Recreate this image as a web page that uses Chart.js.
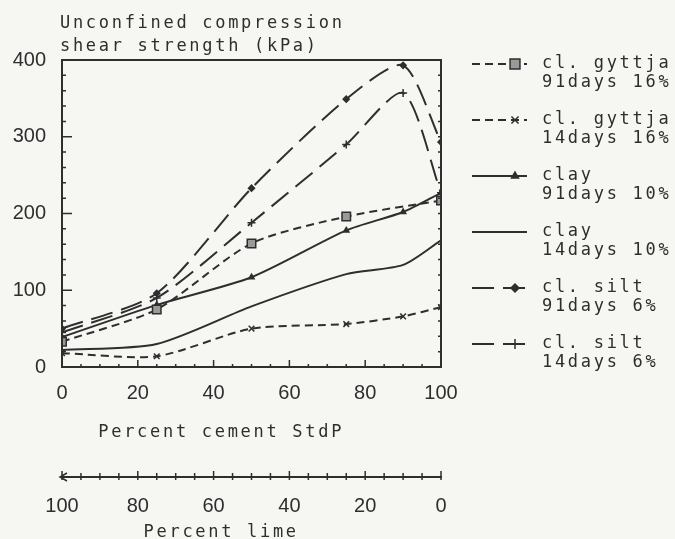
<!DOCTYPE html>
<html>
<head>
<meta charset="utf-8">
<script src="https://cdn.jsdelivr.net/npm/chart.js@4.4.1/dist/chart.umd.min.js"></script>
<style>
  html, body { margin: 0; background: #f6f6f3; }
  #wrap { width: 675px; height: 539px; }
</style>
</head>
<body>
<div id="wrap"><canvas id="strength-chart"></canvas></div>
<script>
// Percent cement StdP (the rest is lime)
var cementPct = [0, 25, 50, 75, 90, 100];

// Unconfined compression shear strength (kPa)
var gyttja91 = [33, 75, 161, 196, null, 217];
var gyttja14 = [18, 14, 50, 56, 66, 78];
var clay91 = [39, 81, 117, 178, 202, 227];
var clay14 = [22, 30, 79, 121, 133, 165];
var silt91 = [50, 96, 233, 349, 393, 293];
var silt14 = [45, 90, 188, 290, 357, 227];

var legendNames = [
  ["cl. gyttja", "91days 16%"],
  ["cl. gyttja", "14days 16%"],
  ["clay", "91days 10%"],
  ["clay", "14days 10%"],
  ["cl. silt", "91days 6%"],
  ["cl. silt", "14days 6%"]
];

var yTitle = ["Unconfined compression", "shear strength (kPa)"];
var xTitle = "Percent cement StdP";
var x2Title = "Percent lime";

var ink = '#2e2e2e';
var monoFont = '17px "DejaVu Sans Mono"';

function pts(vals) {
  return cementPct.map(function (c, i) { return { x: c, y: vals[i] }; });
}

function series(name, vals, dash, style, radius) {
  return {
    label: name,
    data: pts(vals),
    borderColor: ink,
    backgroundColor: ink,
    borderWidth: 2,
    borderDash: dash,
    pointStyle: style,
    pointRadius: radius,
    pointBorderWidth: 1.5,
    pointBackgroundColor: style === 'rect' ? '#9a9a9a' : ink,
    tension: 0.25,
    spanGaps: true,
    fill: false
  };
}

// frame, inner ticks, titles and the two-line legend
var decorations = {
  id: 'decorations',
  afterDraw: function (chart) {
    var ctx = chart.ctx;
    var a = chart.chartArea;
    var sx = chart.scales.x, sy = chart.scales.y, s2 = chart.scales.x2;
    ctx.save();
    ctx.strokeStyle = ink;
    ctx.fillStyle = ink;
    ctx.lineWidth = 2;
    ctx.strokeRect(a.left, a.top, a.right - a.left, a.bottom - a.top);

    ctx.lineWidth = 1.5;
    ctx.beginPath();
    for (var v = 20; v < 400; v += 20) {
      var py = sy.getPixelForValue(v);
      var len = v % 100 === 0 ? 10 : 4;
      ctx.moveTo(a.left, py); ctx.lineTo(a.left + len, py);
      ctx.moveTo(a.right, py); ctx.lineTo(a.right - 3, py);
    }
    for (var u = 5; u < 100; u += 5) {
      var px = sx.getPixelForValue(u);
      var l2 = u % 20 === 0 ? 7 : 3;
      ctx.moveTo(px, a.bottom); ctx.lineTo(px, a.bottom - l2);
    }
    // lime axis ticks
    var ly = s2.top;
    for (var w = 0; w <= 100; w += 5) {
      var qx = s2.getPixelForValue(w);
      var up = w % 20 === 0 ? 6 : 4;
      ctx.moveTo(qx, ly - up); ctx.lineTo(qx, ly + 3);
    }
    // arrow head at the 100 % lime end
    var ax = s2.getPixelForValue(100);
    ctx.moveTo(ax + 5, ly - 4); ctx.lineTo(ax - 2, ly); ctx.lineTo(ax + 5, ly + 4);
    ctx.stroke();

    ctx.font = monoFont;
    ctx.letterSpacing = '2.7px';
    ctx.textAlign = 'left';
    ctx.textBaseline = 'alphabetic';
    ctx.fillText(yTitle[0], a.left - 2, a.top - 32);
    ctx.fillText(yTitle[1], a.left - 2, a.top - 9);

    ctx.textAlign = 'center';
    var cx = sx.getPixelForValue(42);
    ctx.fillText(xTitle, cx, sx.bottom - 40);
    ctx.fillText(x2Title, cx, s2.bottom - 2);

    // legend
    ctx.textAlign = 'left';
    ctx.textBaseline = 'middle';
    chart.data.datasets.forEach(function (ds, i) {
      var rowY = a.top + 4 + i * 56;
      var x0 = a.right + 31, x1 = a.right + 86, mx = a.right + 74;
      ctx.strokeStyle = ink;
      ctx.lineWidth = 2;
      ctx.setLineDash(ds.borderDash);
      ctx.beginPath();
      ctx.moveTo(x0, rowY); ctx.lineTo(x1, rowY);
      ctx.stroke();
      ctx.setLineDash([]);
      if (ds.pointRadius > 0) {
        ctx.fillStyle = ds.pointBackgroundColor;
        ctx.lineWidth = 1.5;
        Chart.helpers.drawPoint(ctx, {
          pointStyle: ds.pointStyle, radius: ds.pointRadius + 1, rotation: 0, borderWidth: 1.5
        }, mx, rowY);
      }
      ctx.fillStyle = ink;
      ctx.fillText(legendNames[i][0], a.right + 101, rowY);
      ctx.fillText(legendNames[i][1], a.right + 101, rowY + 19);
    });
    ctx.restore();
  }
};

var tickFont = { family: '"Liberation Sans", Arial, sans-serif', size: 20 };

new Chart(document.getElementById('strength-chart'), {
  type: 'line',
  data: {
    datasets: [
      series(legendNames[0].join(' '), gyttja91, [8, 5], 'rect', 6),
      series(legendNames[1].join(' '), gyttja14, [8, 5], 'crossRot', 4),
      series(legendNames[2].join(' '), clay91, [], 'triangle', 3),
      series(legendNames[3].join(' '), clay14, [], 'circle', 0),
      series(legendNames[4].join(' '), silt91, [22, 9], 'rectRot', 3),
      series(legendNames[5].join(' '), silt14, [22, 9], 'cross', 4)
    ]
  },
  options: {
    responsive: true,
    maintainAspectRatio: false,
    animation: false,
    layout: { padding: { left: 0, top: 60, right: 234, bottom: 0 } },
    plugins: {
      legend: { display: false },
      title: { display: false },
      tooltip: { enabled: false }
    },
    scales: {
      x: {
        type: 'linear', position: 'bottom', min: 0, max: 100,
        ticks: { stepSize: 20, font: tickFont, color: ink, padding: 6, maxRotation: 0 },
        grid: { display: false },
        border: { display: true, color: ink, width: 2 },
        afterFit: function (scale) { scale.height = 110; }
      },
      x2: {
        type: 'linear', position: 'bottom', min: 0, max: 100, reverse: true,
        ticks: { stepSize: 20, font: tickFont, color: ink, padding: 9, maxRotation: 0 },
        grid: { display: false, drawOnChartArea: false },
        border: { display: true, color: ink, width: 2 },
        afterFit: function (scale) { scale.height = 62; }
      },
      y: {
        min: 0, max: 400,
        ticks: { stepSize: 100, font: tickFont, color: ink, padding: 8 },
        grid: { display: false },
        border: { display: true, color: ink, width: 2 },
        afterFit: function (scale) { scale.width = 62; }
      }
    }
  },
  plugins: [decorations]
});
</script>
</body>
</html>
